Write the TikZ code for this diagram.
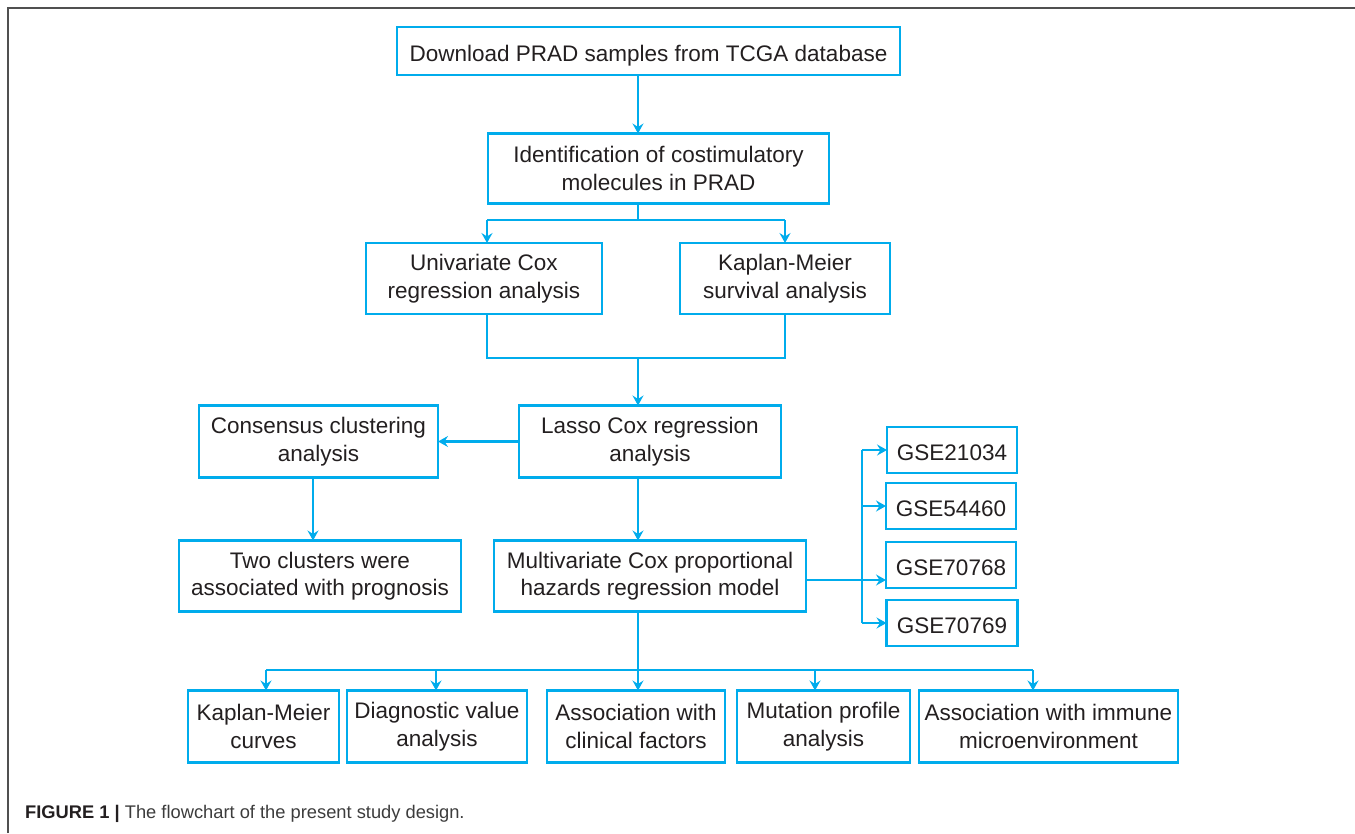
\documentclass[tikz,border=0pt]{standalone}
\usepackage{fontspec}
\setmainfont{Liberation Sans}
\usetikzlibrary{arrows.meta}
\definecolor{fc}{RGB}{0,172,236}
\definecolor{tc}{RGB}{35,31,32}
\definecolor{framec}{RGB}{80,80,80}
\definecolor{capc}{RGB}{60,60,60}
\begin{document}
\begin{tikzpicture}[x=1pt,y=-1pt,
  box/.style={draw=fc,line width=2.8pt,inner sep=0pt,outer sep=0pt,align=center,text=tc,
    font=\fontsize{22.5}{27.5}\selectfont},
  onel/.style={text height=20pt,text depth=0pt},
  gse/.style={box,minimum width=130pt,minimum height=46pt,text height=21pt,text depth=0pt},
  ln/.style={draw=fc,line width=2.8pt},
  arr/.style={ln,-{Stealth[length=10pt,width=11pt,inset=3.5pt]}}]
\useasboundingbox (0,0) rectangle (1355,833);
\draw[framec,line width=1.8pt] (8,833) -- (8,8) -- (1355,8);

\node[box,onel,minimum width=503pt,minimum height=48pt] (dl) at (648.5,51) {Download PRAD samples from TCGA database};
\node[box,minimum width=341pt,minimum height=70pt] (id) at (658.5,168.5) {Identification of costimulatory\\molecules in PRAD};
\node[box,minimum width=236pt,minimum height=71pt] (uni) at (484,278.5) {Univariate Cox\\regression analysis};
\node[box,minimum width=210pt,minimum height=71pt] (km) at (785,278.5) {Kaplan-Meier\\survival analysis};
\node[box,minimum width=262pt,minimum height=72pt] (lasso) at (650,441.5) {Lasso Cox regression\\analysis};
\node[box,minimum width=239pt,minimum height=72pt] (cons) at (318.5,441.5) {Consensus clustering\\analysis};
\node[box,minimum width=282pt,minimum height=71pt] (two) at (320,576) {Two clusters were\\associated with prognosis};
\node[box,minimum width=312pt,minimum height=71pt] (multi) at (650,576) {Multivariate Cox proportional\\hazards regression model};

\node[gse] (g1) at (952,450) {GSE21034};
\node[gse] (g2) at (951,506) {GSE54460};
\node[gse] (g3) at (951,565) {GSE70768};
\node[gse,minimum width=131pt] (g4) at (952,623) {GSE70769};

\node[box,minimum width=151pt,minimum height=72pt] (kmc) at (263.5,726.5) {Kaplan-Meier\\curves};
\node[box,minimum width=180pt,minimum height=72pt] (diag) at (437,726.5) {Diagnostic value\\analysis};
\node[box,minimum width=178pt,minimum height=72pt] (clin) at (636,726.5) {Association with\\clinical factors};
\node[box,minimum width=173pt,minimum height=72pt] (mut) at (823.5,726.5) {Mutation profile\\analysis};
\node[box,minimum width=259pt,minimum height=72pt] (imm) at (1048.5,726.5) {Association with immune\\microenvironment};

\node[anchor=base west,inner sep=0pt,text=capc,font=\fontsize{18.3}{20}\selectfont] (cap) at (25,818.5)
  {\textcolor{tc}{\textbf{FIGURE 1 |}} The flowchart of the present study design.};

% helper coordinates
\coordinate (ax) at (638,0);
\coordinate (s1) at (638,220);
\coordinate (s1l) at (487,220);
\coordinate (s1r) at (785,220);
\coordinate (m1) at (638,358);
\coordinate (bus) at (862,0);
\coordinate (s2) at (638,670);
\coordinate (b1) at (266,670);
\coordinate (b2) at (436,670);
\coordinate (b4) at (815,670);
\coordinate (b5) at (1033,670);
\coordinate (cx) at (313,0);

\draw[arr] (dl.south -| ax) -- (id.north -| ax);
\draw[ln] (id.south -| ax) -- (s1);
\draw[ln] (s1l) -- (s1r);
\draw[arr] (s1l) -- (s1l |- uni.north);
\draw[arr] (s1r) -- (s1r |- km.north);
\draw[ln] (uni.south -| s1l) |- (m1) -| (km.south -| s1r);
\draw[arr] (m1) -- (lasso.north -| ax);
\draw[arr] (lasso.west) -- (cons.east);
\draw[arr] (cons.south -| cx) -- (two.north -| cx);
\draw[arr] (lasso.south -| ax) -- (multi.north -| ax);

\draw[arr] ([yshift=-4pt]multi.east) -- ([yshift=-4pt]multi.east -| g3.west);
\draw[ln] (bus |- g1.west) -- (bus |- g4.west);
\draw[arr] (bus |- g1.west) -- (g1.west);
\draw[arr] (bus |- g2.west) -- (g2.west);
\draw[arr] (bus |- g4.west) -- (g4.west);

\draw[ln] (multi.south -| ax) -- (s2);
\draw[ln] (b1) -- (b5);
\draw[arr] (b1) -- (b1 |- kmc.north);
\draw[arr] (b2) -- (b2 |- diag.north);
\draw[arr] (s2) -- (s2 |- clin.north);
\draw[arr] (b4) -- (b4 |- mut.north);
\draw[arr] (b5) -- (b5 |- imm.north);
\end{tikzpicture}
\end{document}
